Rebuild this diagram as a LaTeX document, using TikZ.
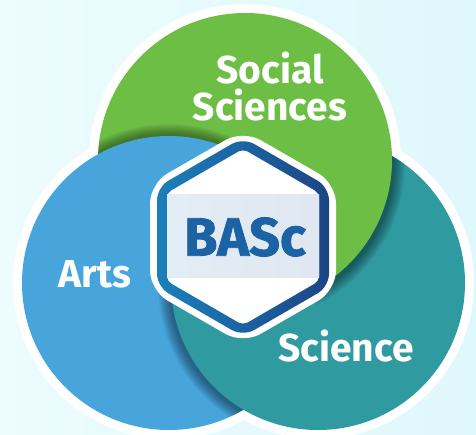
\documentclass[tikz,border=0pt]{standalone}
\usepackage{fontspec}
\setmainfont{Fira Sans}
\newfontfamily\heavyfont{Fira Sans}[BoldFeatures={FakeBold=1.5}]
\usetikzlibrary{calc}

\definecolor{bgleft}{HTML}{EDFCFE}
\definecolor{bgright}{HTML}{DFF8FC}
\definecolor{socgreen}{HTML}{6DBE45}
\definecolor{artblue}{HTML}{47A5DC}
\definecolor{sciteal}{HTML}{2F9AA0}
\definecolor{hexleft}{HTML}{1A80BC}
\definecolor{hexright}{HTML}{1C4585}
\definecolor{bandleft}{HTML}{E4EEF6}
\definecolor{bandright}{HTML}{DFE6EF}
\definecolor{bascblue}{HTML}{1B63A4}

% hexagon with half width #1 and half height #2
\newcommand{\hexpath}[2]{(0,-#2) -- (#1,-#2/2) -- (#1,#2/2) -- (0,#2) -- (-#1,#2/2) -- (-#1,-#2/2) -- cycle}

\begin{document}
\begin{tikzpicture}
  [x=1pt,y=-1pt,
   areatext/.style={text=white,font=\fontsize{39}{37}\selectfont\bfseries,align=center,inner sep=0},
   edgeshadow/.style={black,opacity=0.04}]
  \clip (0,0) rectangle (476,435);
  \fill[left color=bgleft,right color=bgright] (0,0) rectangle (476,435);

  \coordinate (soc) at (245,160);
  \coordinate (art) at (169,283);
  \coordinate (sci) at (318,283);

  % white rim round the three circles
  \foreach \c in {soc,art,sci}
    \draw[white,line width=18] (\c) circle[radius=147];

  % science, with the shadow of social sciences on it
  \fill[sciteal] (sci) circle[radius=147];
  \begin{scope}
    \clip (sci) circle[radius=147];
    \foreach \d in {0,...,11}
      \fill[edgeshadow] ($(soc)+(2,3)$) circle[radius=147+\d];
  \end{scope}

  % social sciences, with the shadow of arts on it
  \fill[socgreen] (soc) circle[radius=147];
  \begin{scope}
    \clip (soc) circle[radius=147];
    \foreach \d in {0,...,10}
      \fill[edgeshadow] ($(art)+(0,-2)$) circle[radius=147+\d];
  \end{scope}

  % arts, with science lying over its lower part
  \fill[artblue] (art) circle[radius=147];
  \begin{scope}
    \clip (art) circle[radius=147];
    \foreach \d in {0,...,11}
      \fill[edgeshadow] ($(sci)+(-2,2)$) circle[radius=147+\d];
  \end{scope}
  \begin{scope}
    \clip (art) circle[radius=148.5];
    \fill[sciteal] (sci) circle[radius=147];
  \end{scope}

  % hexagon
  \begin{scope}[shift={(243,237)}]
    \fill[white,rounded corners=20] \hexpath{93}{107};
    \shade[left color=hexleft,right color=hexright,rounded corners=13] \hexpath{86}{99.5};
    \fill[white,rounded corners=5] \hexpath{76}{88};
    \begin{scope}
      \clip \hexpath{76}{88};
      \shade[left color=bandleft,right color=bandright] (-90,-42) rectangle (90,41);
    \end{scope}
  \end{scope}

  \node (basc) at (245,237) [text=bascblue,font=\fontsize{54}{54}\selectfont\heavyfont\bfseries,inner sep=0] {BASc};
  \node (social) at (270,86.5) [areatext] {Social\\Sciences};
  \node (arts) at (95,288) [areatext,anchor=base] {Arts};
  \node (science) at (346,361) [areatext,anchor=base] {Science};
\end{tikzpicture}
\end{document}
